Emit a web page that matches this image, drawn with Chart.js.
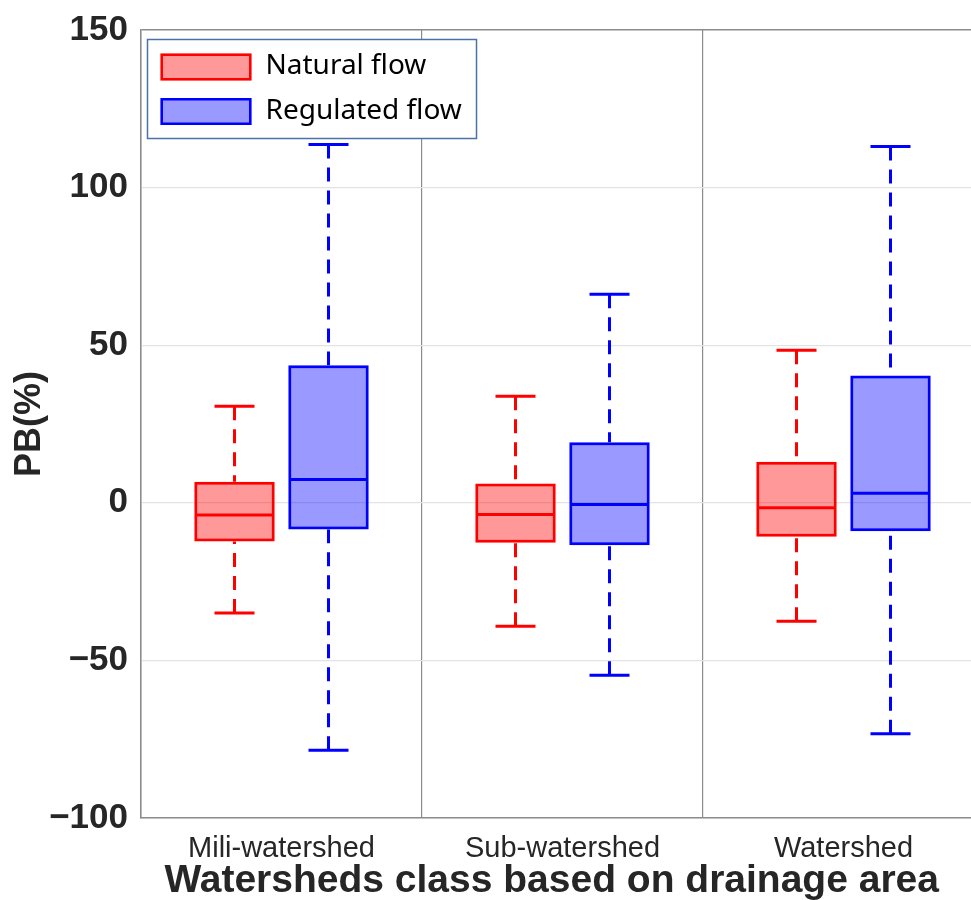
<!DOCTYPE html>
<html>
<head>
<meta charset="utf-8">
<script src="https://cdn.jsdelivr.net/npm/chart.js@4.4.1/dist/chart.umd.min.js"></script>
<style>
  html, body { margin: 0; padding: 0; background: #fff; overflow: hidden; }
  #wrap { width: 971px; height: 900px; overflow: hidden; }
</style>
</head>
<body>
<div id="wrap"><canvas id="pbChart" width="1000" height="900"></canvas></div>
<script>
// Percent bias (PB) box plots per watershed class
const categories = ['Mili-watershed', 'Sub-watershed', 'Watershed']

const naturalMin = [-35.0, -39.2, -37.6]
const naturalQ1 = [-12.3, -12.7, -10.8]
const naturalMedian = [-3.9, -3.7, -1.6]
const naturalQ3 = [6.7, 6.1, 13.0]
const naturalMax = [30.6, 33.8, 48.4]

const regulatedMin = [-78.5, -54.7, -73.3]
const regulatedQ1 = [-8.5, -13.5, -9.0]
const regulatedMedian = [7.4, -0.5, 3.0]
const regulatedQ3 = [43.6, 19.2, 40.4]
const regulatedMax = [113.7, 66.2, 113.0]

const yMin = -100
const yMax = 150
const yStep = 50

const RED = '#ff0000'
const BLUE = '#0000ff'
const AXIS_GRAY = '#8c8c8c'
const TEXT = '#262626'

/**
 * Draws medians, dashed whiskers and caps on top of the floating bars
 */
const boxWhiskers = {
  id: 'boxWhiskers',
  afterDatasetsDraw(chart) {
    const ctx = chart.ctx
    const y = chart.scales.y
    chart.data.datasets.forEach((ds, di) => {
      const meta = chart.getDatasetMeta(di)
      meta.data.forEach((bar, i) => {
        const half = bar.width / 2
        const cx = bar.x
        const pMed = y.getPixelForValue(ds.medians[i])
        const pQ1 = y.getPixelForValue(ds.data[i][0])
        const pQ3 = y.getPixelForValue(ds.data[i][1])
        const pMin = y.getPixelForValue(ds.mins[i])
        const pMax = y.getPixelForValue(ds.maxs[i])
        ctx.save()
        ctx.strokeStyle = ds.borderColor
        ctx.lineWidth = 3
        // median
        ctx.beginPath()
        ctx.moveTo(cx - half + 1.5, pMed)
        ctx.lineTo(cx + half - 1.5, pMed)
        ctx.stroke()
        // whiskers
        ctx.setLineDash([14, 9])
        ctx.beginPath()
        ctx.moveTo(cx, pMax)
        ctx.lineTo(cx, pQ3)
        ctx.moveTo(cx, pMin)
        ctx.lineTo(cx, pQ1)
        ctx.stroke()
        // caps
        ctx.setLineDash([])
        ctx.beginPath()
        ctx.moveTo(cx - 20, pMax)
        ctx.lineTo(cx + 20, pMax)
        ctx.moveTo(cx - 20, pMin)
        ctx.lineTo(cx + 20, pMin)
        ctx.stroke()
        ctx.restore()
      })
    })
  },
}

/**
 * Legend inside the plot, with a framed box
 */
const insideLegend = {
  id: 'insideLegend',
  afterDraw(chart) {
    const ctx = chart.ctx
    const area = chart.chartArea
    const x0 = area.left + 6.5
    const y0 = area.top + 9.5
    ctx.save()
    ctx.fillStyle = '#fff'
    ctx.fillRect(x0, y0, 329, 99)
    ctx.strokeStyle = '#4a72a8'
    ctx.lineWidth = 1.5
    ctx.strokeRect(x0, y0, 329, 99)
    chart.data.datasets.forEach((ds, i) => {
      const sy = y0 + 14 + i * 44.5
      ctx.fillStyle = ds.backgroundColor
      ctx.fillRect(x0 + 13, sy, 91, 27)
      ctx.strokeStyle = ds.borderColor
      ctx.lineWidth = 2.5
      ctx.strokeRect(x0 + 14.25, sy + 1.25, 88.5, 24.5)
      ctx.fillStyle = '#000'
      ctx.font = '28px "Noto Sans", sans-serif'
      ctx.textBaseline = 'middle'
      ctx.textAlign = 'left'
      ctx.fillText(ds.label, x0 + 118, sy + 13)
    })
    ctx.restore()
  },
}

new Chart(document.getElementById('pbChart').getContext('2d'), {
  type: 'bar',
  data: {
    labels: categories,
    datasets: [
      {
        label: 'Natural flow',
        data: categories.map((c, i) => [naturalQ1[i], naturalQ3[i]]),
        medians: naturalMedian,
        mins: naturalMin,
        maxs: naturalMax,
        backgroundColor: 'rgba(255, 0, 0, 0.4)',
        borderColor: RED,
        borderWidth: 3,
        borderSkipped: false,
        barPercentage: 0.856,
        categoryPercentage: 0.669,
      },
      {
        label: 'Regulated flow',
        data: categories.map((c, i) => [regulatedQ1[i], regulatedQ3[i]]),
        medians: regulatedMedian,
        mins: regulatedMin,
        maxs: regulatedMax,
        backgroundColor: 'rgba(0, 0, 255, 0.4)',
        borderColor: BLUE,
        borderWidth: 3,
        borderSkipped: false,
        barPercentage: 0.856,
        categoryPercentage: 0.669,
      },
    ],
  },
  options: {
    responsive: false,
    animation: false,
    devicePixelRatio: 1,
    layout: {
      padding: { top: 30, right: 16, left: 0, bottom: 0 },
    },
    plugins: {
      legend: { display: false },
      tooltip: { enabled: false },
    },
    scales: {
      x: {
        afterFit: (scale) => { scale.height = 82 },
        grid: {
          color: AXIS_GRAY,
          lineWidth: 1.2,
          drawTicks: false,
        },
        border: { color: AXIS_GRAY, width: 1.5 },
        ticks: {
          color: TEXT,
          padding: 14,
          font: { family: '"Liberation Sans", Arial, sans-serif', size: 29 },
        },
        title: {
          display: true,
          text: 'Watersheds class based on drainage area  ',
          color: TEXT,
          padding: { top: 0, bottom: -1 },
          font: { family: '"Liberation Sans", Arial, sans-serif', size: 39, weight: 'bold', lineHeight: 1 },
        },
      },
      y: {
        min: yMin,
        max: yMax,
        afterFit: (scale) => {
          scale.width = 141
          scale.paddingTop = 0
          scale.paddingBottom = 0
        },
        grid: {
          color: (c) => (c.tick && c.tick.value === yMax ? AXIS_GRAY : '#e3e3e3'),
          lineWidth: (c) => (c.tick && c.tick.value === yMax ? 1.5 : 1.2),
          drawTicks: false,
        },
        border: { color: AXIS_GRAY, width: 1.5 },
        ticks: {
          stepSize: yStep,
          color: TEXT,
          padding: 13,
          font: { family: '"Liberation Sans", Arial, sans-serif', size: 35, weight: 'bold' },
          callback: (v) => (v < 0 ? '\u2212' + Math.abs(v) : String(v)),
        },
        title: {
          display: true,
          text: 'PB(%)',
          color: TEXT,
          padding: { top: 12, bottom: 0 },
          font: { family: '"Liberation Sans", Arial, sans-serif', size: 36, weight: 'bold', lineHeight: 1 },
        },
      },
    },
  },
  plugins: [boxWhiskers, insideLegend],
})
</script>
</body>
</html>
